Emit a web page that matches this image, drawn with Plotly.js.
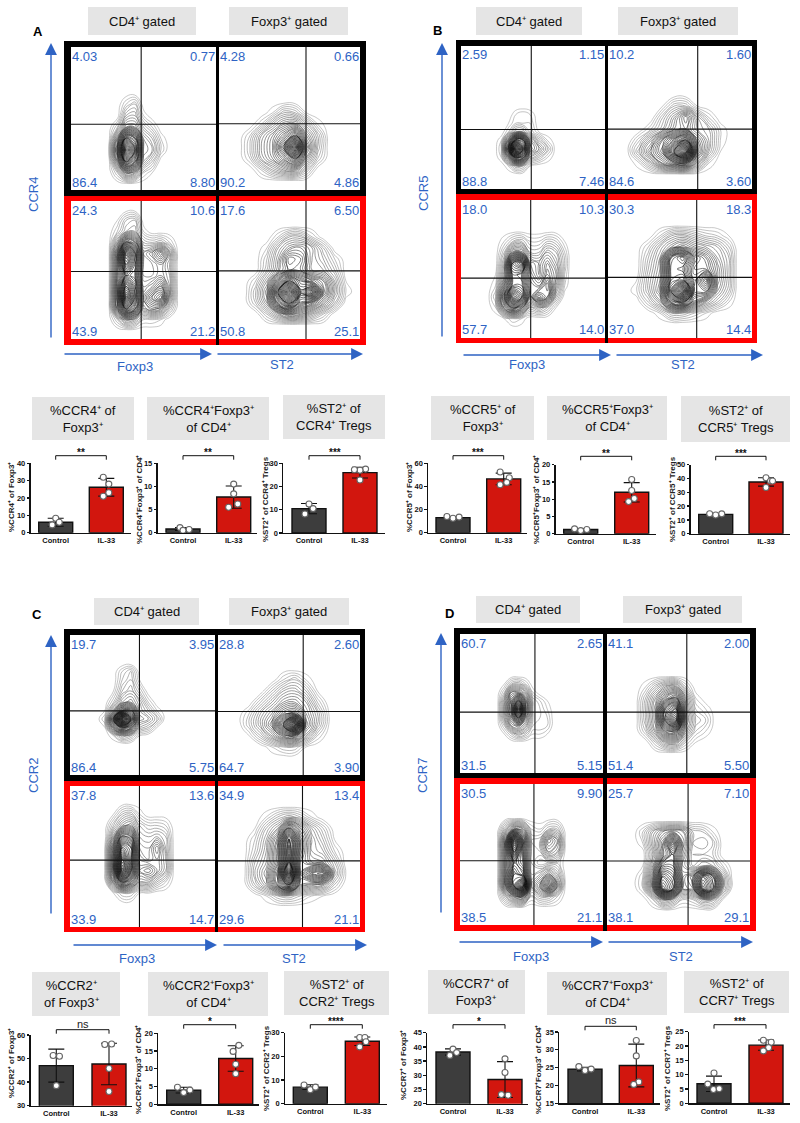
<!DOCTYPE html>
<html><head><meta charset="utf-8">
<script src="https://cdn.plot.ly/plotly-3.0.1.min.js"></script>
<style>html,body{margin:0;padding:0;background:#fff}</style></head>
<body><div id="chart" style="width:800px;height:1123px"></div>
<script>
// ---------- DATA: gate percentages (TL, TR, BL, BR) ----------
const pctA=[['4.03','0.77','86.4','8.80'],['4.28','0.66','90.2','4.86'],['24.3','10.6','43.9','21.2'],['17.6','6.50','50.8','25.1']];
const pctB=[['2.59','1.15','88.8','7.46'],['10.2','1.60','84.6','3.60'],['18.0','10.3','57.7','14.0'],['30.3','18.3','37.0','14.4']];
const pctC=[['19.7','3.95','86.4','5.75'],['28.8','2.60','64.7','3.90'],['37.8','13.6','33.9','14.7'],['34.9','13.4','29.6','21.1']];
const pctD=[['60.7','2.65','31.5','5.15'],['41.1','2.00','51.4','5.50'],['30.5','9.90','38.5','21.1'],['25.7','7.10','38.1','29.1']];
// gate positions [vertical, horizontal] in % of the plot
const gatesA=[[48.4,46],[61.7,46.3],[48.4,48.9],[61.7,49.4]];
const gatesB=[[48.8,41.6],[62.3,41.9],[48.4,43.4],[61.6,43.9]];
const gatesC=[[47.9,45.8],[60,45.4],[47.9,47.4],[59.5,46.9]];
const gatesD=[[52.4,43.8],[55.8,43.8],[51.7,45.6],[56.7,45.4]];

// ---------- DATA: contour densities (rows read top to bottom) ----------
const xA1=[26,32,38,44,50,56,62,68], yA1=[60,52,44,36,28,20,12];
const zA1=[[0,0,3,5,0,0,0,0],[0,0,7,8,2,0,0,0],[0,4,12,12,6,3,0,0],[0,12,30,26,10,7,2,0],[1,18,42,32,11,9,3,0],[0,12,30,24,9,5,0,0],[0,4,12,10,3,1,0,0]];
const xA2=[14,22,30,38,46,54,62,70,78], yA2=[54,46,38,30,22,14];
const zA2=[[0,0,0,2,6,5,1,0,0],[0,0,3,8,12,13,7,2,0],[0,3,9,13,18,24,12,6,0],[0,4,10,14,24,40,16,6,0],[0,3,9,13,18,24,11,4,0],[0,0,3,7,10,11,5,0,0]];
const xA3=[26,32,38,44,50,56,62,68,74], yA3=[86,78,70,62,54,46,38,30,22,14];
const zA3=[[0,1,5,6,0,0,0,0,0],[0,3,7,8,2,0,0,0,0],[0,9,22,18,6,5,6,3,0],[0,16,38,28,10,13,18,10,0],[0,16,34,26,10,10,12,8,0],[0,16,26,24,10,10,12,9,0],[0,18,36,28,12,14,18,10,0],[0,18,42,30,14,20,24,10,0],[0,15,30,24,11,14,12,5,0],[0,4,10,8,3,3,2,0,0]];
const xA4=[18,26,34,42,50,58,66,74,82,90], yA4=[74,66,58,50,42,34,26,18];
const zA4=[[0,0,0,3,7,7,3,0,0,0],[0,0,2,8,12,13,10,5,0,0],[0,0,4,10,18,16,10,7,3,0],[0,0,5,11,16,15,10,9,5,0],[0,3,9,20,30,24,20,16,8,1],[0,5,12,30,44,28,34,18,9,2],[0,4,10,24,32,22,18,12,6,0],[0,0,4,9,14,12,8,4,0,0]];

const xB1=[28,33,38,43,48,54,60,66], yB1=[52,46,40,34,28,22,16];
const zB1=[[0,0,2,3,2,0,0,0],[0,1,3,3,3,0,0,0],[0,3,8,8,4,1,0,0],[2,14,30,28,12,6,2,0],[3,22,48,34,14,10,5,0],[2,12,26,22,8,5,2,0],[0,2,6,5,1,0,0,0]];
const xB2=[14,22,30,38,46,54,62,70,78], yB2=[58,50,42,34,26,18];
const zB2=[[0,0,0,1,5,5,1,0,0],[0,0,0,5,10,16,8,3,0],[0,0,3,7,12,14,9,7,2],[0,4,10,18,24,30,14,8,2],[1,7,14,20,34,46,16,7,1],[0,2,7,14,18,20,9,2,0]];
const xB3=[24,30,36,42,48,54,60,66,72,76], yB3=[70,62,54,46,38,30,22,14];
const zB3=[[0,2,5,6,3,3,5,4,1,0],[0,5,14,14,6,6,10,8,3,0],[0,8,30,34,12,10,14,10,4,0],[1,10,26,24,14,10,16,12,3,0],[2,14,26,26,16,14,20,10,2,0],[4,20,36,30,14,22,18,6,0,0],[2,14,22,16,6,8,5,1,0,0],[0,1,3,2,0,0,0,0,0,0]];
const xB4=[20,28,36,44,52,60,68,76,84,90], yB4=[74,66,58,50,42,34,26,18];
const zB4=[[0,0,3,7,8,6,4,3,1,0],[0,3,8,12,15,12,10,8,4,0],[0,5,10,26,30,20,16,10,6,0],[0,6,11,28,26,18,18,12,6,0],[1,7,12,28,30,20,28,12,6,0],[2,7,13,32,44,22,22,10,5,0],[0,4,9,22,26,16,10,6,2,0],[0,0,2,6,6,4,2,0,0,0]];

const xC1=[24,30,36,42,48,54,60,66], yC1=[74,68,60,52,46,40,34,28];
const zC1=[[0,0,3,5,0,0,0,0],[0,0,4,6,1,0,0,0],[0,1,6,8,4,0,0,0],[0,4,10,12,8,3,0,0],[1,10,22,22,9,6,2,0],[3,22,48,30,11,9,5,0],[1,14,24,18,7,5,1,0],[0,2,7,5,1,0,0,0]];
const xC2=[14,22,30,38,46,54,62,70,78], yC2=[68,60,52,44,36,28,20];
const zC2=[[0,0,0,0,3,5,2,0,0],[0,0,0,4,8,9,6,1,0],[0,0,4,8,12,13,10,4,0],[0,3,8,12,18,20,12,7,1],[0,4,9,15,28,44,14,7,1],[0,1,5,10,16,18,9,3,0],[0,0,0,2,4,4,1,0,0]];
const xC3=[24,30,36,42,48,54,60,66,72], yC3=[80,72,64,56,48,40,32,24];
const zC3=[[0,1,5,6,2,0,0,0,0],[0,5,10,12,6,4,4,3,0],[0,10,24,22,8,7,8,6,0],[1,16,34,30,10,9,14,7,0],[1,18,40,30,12,10,12,8,0],[1,18,44,30,14,16,12,8,0],[0,12,24,18,10,10,6,3,0],[0,1,4,4,1,1,0,0,0]];
const xC4=[18,26,34,42,50,58,66,74,82,90], yC4=[78,70,62,54,46,38,30,22];
const zC4=[[0,0,2,5,7,5,2,0,0,0],[0,1,6,10,22,14,8,4,0,0],[0,3,8,16,34,18,10,6,1,0],[0,4,9,18,36,18,10,8,3,0],[0,6,10,18,36,16,12,11,6,0],[0,7,12,22,46,16,24,26,8,1],[0,5,10,20,30,14,12,10,4,0],[0,0,2,5,6,4,2,1,0,0]];

const xD1=[26,31,36,41,46,51,56,61,66], yD1=[64,58,52,46,40,34,28];
const zD1=[[0,1,5,6,3,0,0,0,0],[0,4,14,14,10,2,0,0,0],[0,8,18,28,16,5,3,1,0],[0,9,20,40,18,5,4,2,0],[0,8,16,28,14,5,4,3,0],[0,4,12,14,10,4,4,3,0],[0,1,4,7,5,2,2,1,0]];
const xD2=[20,27,34,41,48,55,62,69,76], yD2=[62,54,46,38,30,22];
const zD2=[[0,2,6,10,11,4,0,0,0],[0,5,11,18,22,10,2,0,0],[0,6,13,28,34,12,4,2,0],[0,6,13,30,40,13,6,4,0],[0,4,11,20,22,10,4,2,0],[0,0,4,9,10,4,1,0,0]];
const xD3=[26,32,38,44,50,56,62,68,74], yD3=[68,60,52,44,36,28,20];
const zD3=[[0,7,14,12,3,2,5,5,0],[0,16,40,22,5,6,16,12,0],[0,16,34,20,5,5,12,9,0],[0,15,26,22,5,2,3,3,0],[0,16,30,26,6,8,12,7,0],[0,16,32,42,8,14,24,12,0],[0,6,12,14,3,6,6,3,0]];
const xD4=[18,25,32,39,46,53,60,67,74,81,88], yD4=[66,58,50,42,34,26,18];
const zD4=[[0,3,8,12,14,12,6,5,2,0,0],[0,2,9,16,28,14,6,7,5,0,0],[0,0,7,16,22,12,5,5,4,0,0],[0,1,10,24,24,10,6,8,7,3,0],[0,3,14,32,28,12,16,30,24,8,0],[0,3,14,36,30,12,14,34,26,8,0],[0,0,3,10,8,3,4,8,7,1,0]];

// ---------- DATA: bar charts ----------
const categories=['Control','IL-33'];
const A1_means=[6,26.2], A1_err=[2.3,5.1], A1_ctrl=[8.3,6,4.5], A1_il33=[32,28,23,21], A1_cx=[0,.07,-.07], A1_ix=[-.06,.05,.05,-.06];
const A2_means=[0.8,7.7], A2_err=[0.3,2.4], A2_ctrl=[1.1,.7,.5], A2_il33=[10.5,8.4,6.2,5.5], A2_cx=[-.06,.12,0], A2_ix=[0,0,.08,-.1];
const A3_means=[10.5,26], A3_err=[2.2,2.3], A3_ctrl=[12.5,10.5,8.2], A3_il33=[27.5,27,27.2,22.8], A3_cx=[0,.08,-.08], A3_ix=[.11,0,-.11,0];
const B1_means=[13,46.5], B1_err=[1,5], B1_ctrl=[14,12.5,13.5], B1_il33=[52.5,47.5,43.5,41.5], B1_cx=[-.12,0,.12], B1_ix=[-.07,.11,.06,-.07];
const B2_means=[1.2,12], B2_err=[.3,2.8], B2_ctrl=[1.4,.9,1.2], B2_il33=[15.7,12.5,10.2,9.3], B2_cx=[-.12,0,.12], B2_ix=[0,0,.05,-.06];
const B3_means=[14,37.5], B3_err=[.5,3], B3_ctrl=[14.5,13.5,14.4], B3_il33=[40.5,38.2,38.2,33.5], B3_cx=[-.12,0,.12], B3_ix=[0,.09,.13,0];
const C1_means=[47,47.7], C1_err=[7,8.8], C1_ctrl=[51.3,51,38.5], C1_il33=[56,56.2,45.8,36], C1_cx=[-.06,.06,0], C1_ix=[-.08,.05,0,0];
const C2_means=[4,12.9], C2_err=[.8,3.6], C2_ctrl=[4.8,3.3,4], C2_il33=[16.6,14.9,11.3,8.6], C2_cx=[-.12,0,.12], C2_ix=[.06,-.05,0,0];
const C3_means=[7,26.4], C3_err=[1,1.8], C3_ctrl=[7.9,5.9,7], C3_il33=[28,28,26.2,24], C3_cx=[-.12,0,.1], C3_ix=[-.05,.05,.07,-.05];
const D1_means=[38.2,28.5], D1_err=[1.1,6.3], D1_ctrl=[39.2,38,37], D1_il33=[35.8,31,23.2,23], D1_cx=[0,.07,-.06], D1_ix=[0,0,-.07,.06];
const D2_means=[24.6,25.6], D2_err=[.5,6], D2_ctrl=[25.3,24.2,24.6], D2_il33=[32.6,28.3,21,20.3], D2_cx=[-.12,0,.12], D2_ix=[0,0,.05,-.05];
const D3_means=[6.8,20.3], D3_err=[2.7,1.8], D3_ctrl=[10.6,6.7,4.8,5.1], D3_il33=[22,21.3,19.4,18.3], D3_cx=[0,-.12,-.01,.1], D3_ix=[-.05,.1,.05,-.05];

// ---------- LAYOUT TABLES (pixels in the page) ----------
const W=800,H=1123;
const px=x=>x/W, py=y=>1-y/H;
const BLUE='#2e63c4', FONT='"Liberation Sans",Arial,sans-serif';
const traces=[], shapes=[], annotations=[], layout={};
let axisN=0;

function rect(x0,y0,x1,y1,c){shapes.push({type:'rect',xref:'paper',yref:'paper',x0:px(x0),x1:px(x1),y0:py(y0),y1:py(y1),fillcolor:c,line:{width:0},layer:'below'});}
function text(x,y,t,o={}){annotations.push(Object.assign({xref:'paper',yref:'paper',x:px(x),y:py(y),text:t,showarrow:false,xanchor:'center',yanchor:'middle',font:{family:FONT,size:13,color:'#111'},borderpad:0,borderwidth:0},o));}
function arrow(x1,y1,x2,y2){annotations.push({xref:'paper',yref:'paper',x:px(x2),y:py(y2),ax:x1-x2,ay:y1-y2,axref:'pixel',ayref:'pixel',text:'',showarrow:true,arrowhead:2,arrowsize:1.7,arrowwidth:1.4,arrowcolor:BLUE,standoff:0});}

function flowGroup(g){
  rect(g.fx0,g.fy0,g.fx1,g.fym,'#000');
  rect(g.fx0,g.fym,g.fx1,g.fy1,'#ff0000');
  rect(g.col[0][1],g.fym,g.col[1][0],g.fy1,'#000');
  const cells=[[g.col[0],g.row[0]],[g.col[1],g.row[0]],[g.col[0],g.row[1]],[g.col[1],g.row[1]]];
  cells.forEach((c,i)=>{
    const [l,r]=c[0],[t,b]=c[1];
    rect(l,t,r,b,'#fff');
    axisN++;
    const xa='x'+axisN, ya='y'+axisN;
    layout['xaxis'+axisN]={domain:[px(l),px(r)],range:[0,100],visible:false,anchor:ya,fixedrange:true};
    layout['yaxis'+axisN]={domain:[py(b),py(t)],range:[0,100],visible:false,anchor:xa,fixedrange:true};
    const d=g.cont[i];
    const dx0=d.x[1]-d.x[0], dxn=d.x[d.x.length-1]-d.x[d.x.length-2];
    const dy0=d.y[0]-d.y[1], dyn=d.y[d.y.length-2]-d.y[d.y.length-1];
    const xs=[d.x[0]-dx0,...d.x,d.x[d.x.length-1]+dxn];
    const ys=[d.y[0]+dy0,...d.y,d.y[d.y.length-1]-dyn].reverse();
    const zero=xs.map(()=>0);
    const zs=[zero,...d.z.map(r=>[0,...r,0]),zero].reverse();
    traces.push({type:'contour',x:xs,y:ys,z:zs,xaxis:xa,yaxis:ya,autocontour:false,showscale:false,hoverinfo:'skip',
      contours:{coloring:'lines',start:1,end:60,size:1},line:{width:0.6,smoothing:1.3},
      zmin:0,zmax:30,colorscale:[[0,'#a4a4a4'],[0.2,'#686868'],[0.5,'#2c2c2c'],[1,'#0a0a0a']]});
    const [vx,hy]=g.gates[i];
    shapes.push({type:'line',xref:xa,yref:ya,x0:vx,x1:vx,y0:0,y1:100,line:{color:'#111',width:1.1}});
    shapes.push({type:'line',xref:xa,yref:ya,x0:0,x1:100,y0:hy,y1:hy,line:{color:'#111',width:1.1}});
    const p=g.pct[i], col={family:FONT,size:13,color:BLUE};
    text(l+1,t+9,p[0],{xanchor:'left',font:col});
    text(r-1,t+9,p[1],{xanchor:'right',font:col});
    text(l+1,b-8,p[2],{xanchor:'left',font:col});
    text(r-1,b-8,p[3],{xanchor:'right',font:col});
  });
  g.heads.forEach(h=>{rect(h[0],h[1],h[2],h[3],'#e5e5e5');text((h[0]+h[2])/2,(h[1]+h[3])/2,h[4]);});
  text(g.letter[0],g.letter[1],'<b>'+g.letter[2]+'</b>',{font:{family:FONT,size:13,color:'#000'}});
  arrow(g.yarrow[0],g.yarrow[1],g.yarrow[0],g.yarrow[2]);
  arrow(g.xa1[0],g.xa1[2],g.xa1[1],g.xa1[2]);
  arrow(g.xa2[0],g.xa2[2],g.xa2[1],g.xa2[2]);
  const bc={family:FONT,size:13,color:BLUE};
  text(g.xl1[0],g.xl1[1],'Foxp3',{font:bc});
  text(g.xl2[0],g.xl2[1],'ST2',{font:bc});
  text(g.yl[0],g.yl[1],g.yl[2],{font:bc,textangle:-90});
}

const S='\u207A';
flowGroup({fx0:64,fx1:366,fy0:41,fym:196,fy1:345,col:[[71,216],[219,360]],row:[[47,190],[201,339]],
  cont:[{x:xA1,y:yA1,z:zA1},{x:xA2,y:yA2,z:zA2},{x:xA3,y:yA3,z:zA3},{x:xA4,y:yA4,z:zA4}],gates:gatesA,pct:pctA,
  heads:[[88,7,196,35,'CD4'+S+' gated'],[229,7,348,35,'Foxp3'+S+' gated']],letter:[38,31,'A'],
  yarrow:[51,339,43],xa1:[63,212,354],xa2:[216,363,354],xl1:[135,367],xl2:[282,364],yl:[33,195,'CCR4']});
flowGroup({fx0:456,fx1:757,fy0:40,fym:194,fy1:343,col:[[461,605],[608,752]],row:[[46,189],[200,338]],
  cont:[{x:xB1,y:yB1,z:zB1},{x:xB2,y:yB2,z:zB2},{x:xB3,y:yB3,z:zB3},{x:xB4,y:yB4,z:zB4}],gates:gatesB,pct:pctB,
  heads:[[476,7,582,35,'CD4'+S+' gated'],[618,7,738,35,'Foxp3'+S+' gated']],letter:[437,30,'B'],
  yarrow:[442,338,43],xa1:[462,611,355],xa2:[615,763,355],xl1:[527,364],xl2:[683,364],yl:[424,194,'CCR5']});
flowGroup({fx0:64,fx1:365,fy0:629,fym:781,fy1:932,col:[[70,215],[218,360]],row:[[635,775],[786,927]],
  cont:[{x:xC1,y:yC1,z:zC1},{x:xC2,y:yC2,z:zC2},{x:xC3,y:yC3,z:zC3},{x:xC4,y:yC4,z:zC4}],gates:gatesC,pct:pctC,
  heads:[[94,598,199,625,'CD4'+S+' gated'],[229,598,349,625,'Foxp3'+S+' gated']],letter:[37,614,'C'],
  yarrow:[51,915,635],xa1:[72,217,945],xa2:[222,367,945],xl1:[137,958],xl2:[294,958],yl:[33,776,'CCR2']});
flowGroup({fx0:454,fx1:756,fy0:628,fym:778,fy1:931,col:[[460,603],[607,750]],row:[[634,773],[784,925]],
  cont:[{x:xD1,y:yD1,z:zD1},{x:xD2,y:yD2,z:zD2},{x:xD3,y:yD3,z:zD3},{x:xD4,y:yD4,z:zD4}],gates:gatesD,pct:pctD,
  heads:[[476,596,580,623,'CD4'+S+' gated'],[623,596,742,623,'Foxp3'+S+' gated']],letter:[449,613,'D'],
  yarrow:[441,914,633],xa1:[458,603,942],xa2:[607,753,942],xl1:[531,956],xl2:[681,956],yl:[422,776,'CCR7']});

function barChart(c){
  axisN++;
  const xa='x'+axisN, ya='y'+axisN;
  const s=c.c2-c.c1;
  const r0=1-(c.c1-c.L)/s, r1=1+(c.R-c.c1)/s;
  const axisLine={showline:true,linecolor:'#111',linewidth:1.4,fixedrange:true,showgrid:false,zeroline:false};
  const tf={family:FONT,size:7.5,color:'#111',weight:700};
  layout['xaxis'+axisN]=Object.assign({domain:[px(c.L),px(c.R)],range:[r0,r1],anchor:ya,tickmode:'array',tickvals:[1,2],ticktext:categories,ticks:'',tickfont:tf},axisLine);
  layout['yaxis'+axisN]=Object.assign({domain:[py(c.base),py(c.top)],range:[c.ticks[0],c.ticks[c.ticks.length-1]],anchor:xa,tickmode:'array',tickvals:c.ticks,ticks:'outside',ticklen:2.5,tickwidth:1.3,tickcolor:'#111',tickfont:tf},axisLine);
  traces.push({type:'bar',x:[1,2],y:c.means,width:34/s,xaxis:xa,yaxis:ya,showlegend:false,hoverinfo:'skip',
    marker:{color:['#3d3d3d','#d2160e'],line:{color:'#111',width:1.4}}});
  traces.push({type:'scatter',mode:'markers',x:[1,2],y:c.means,xaxis:xa,yaxis:ya,showlegend:false,hoverinfo:'skip',cliponaxis:false,
    marker:{size:1,opacity:0},error_y:{type:'data',array:c.err,visible:true,color:'#111',thickness:1.1,width:8}});
  traces.push({type:'scatter',mode:'markers',xaxis:xa,yaxis:ya,showlegend:false,hoverinfo:'skip',cliponaxis:false,
    x:[...c.ctrl.map((_,i)=>1+c.cx[i]),...c.il33.map((_,i)=>2+c.ix[i])],y:[...c.ctrl,...c.il33],
    marker:{size:6,color:'#fff',line:{color:'#666',width:1.1}}});
  shapes.push({type:'path',xref:'paper',yref:'paper',path:`M${px(c.c1)},${py(c.br+4)} L${px(c.c1)},${py(c.br)} L${px(c.c2)},${py(c.br)} L${px(c.c2)},${py(c.br+4)}`,line:{color:'#111',width:1}});
  const mid=(c.c1+c.c2)/2;
  if(c.sig==='ns') text(mid,c.br-6,'ns',{font:{family:FONT,size:11,color:'#222'}});
  else text(mid,c.br-3,'<b>'+c.sig+'</b>',{font:{family:FONT,size:10,color:'#111'}});
  text(c.tx,c.ty,'<b>'+c.title+'</b>',{textangle:-90,font:{family:FONT,size:8,color:'#222'}});
  rect(c.box[0],c.box[1],c.box[2],c.box[3],'#e5e5e5');
  text(c.lab||(c.box[0]+c.box[2])/2,(c.box[1]+c.box[3])/2,c.boxText);
}
const P='\u207A';
const charts=[
 {L:30.7,c1:55.7,c2:106.3,R:130.7,base:532.7,top:463.3,br:455.7,ticks:[0,10,20,30,40],means:A1_means,err:A1_err,ctrl:A1_ctrl,il33:A1_il33,cx:A1_cx,ix:A1_ix,sig:'**',tx:11,ty:497,title:'%CCR4'+P+' of Foxp3'+P,box:[32,397,134,440],boxText:'%CCR4'+P+' of<br>Foxp3'+P},
 {L:157.7,c1:183,c2:233.7,R:256.7,base:532.7,top:463.3,br:455.7,ticks:[0,5,10,15],means:A2_means,err:A2_err,ctrl:A2_ctrl,il33:A2_il33,cx:A2_cx,ix:A2_ix,sig:'**',tx:140,ty:500,title:'%CCR4'+P+'Foxp3'+P+' of CD4'+P,box:[147,397,269,440],boxText:'%CCR4'+P+'Foxp3'+P+'<br>of CD4'+P},
 {L:283.3,c1:309,c2:360,R:385,base:533,top:463.3,br:455.7,ticks:[0,10,20,30],means:A3_means,err:A3_err,ctrl:A3_ctrl,il33:A3_il33,cx:A3_cx,ix:A3_ix,sig:'***',tx:265,ty:499,title:'%ST2'+P+' of CCR4'+P+' Tregs',box:[283,395,385,439],boxText:'%ST2'+P+' of<br>CCR4'+P+' Tregs'},
 {L:428.3,c1:453,c2:503.7,R:527.3,base:532.7,top:463.3,br:455.7,ticks:[0,20,40,60],means:B1_means,err:B1_err,ctrl:B1_ctrl,il33:B1_il33,cx:B1_cx,ix:B1_ix,sig:'***',tx:409,ty:497,title:'%CCR5'+P+' of Foxp3'+P,box:[431,396,534,440],boxText:'%CCR5'+P+' of<br>Foxp3'+P},
 {L:555.7,c1:580.7,c2:631.7,R:656,base:533.7,top:464.7,br:456.3,ticks:[0,5,10,15,20],means:B2_means,err:B2_err,ctrl:B2_ctrl,il33:B2_il33,cx:B2_cx,ix:B2_ix,sig:'**',tx:537,ty:500,title:'%CCR5'+P+'Foxp3'+P+' of CD4'+P,box:[547,396,667,440],boxText:'%CCR5'+P+'Foxp3'+P+'<br>of CD4'+P},
 {L:690.7,c1:715.7,c2:766,R:790,base:533.7,top:464.7,br:456.3,ticks:[0,10,20,30,40,50],means:B3_means,err:B3_err,ctrl:B3_ctrl,il33:B3_il33,cx:B3_cx,ix:B3_ix,sig:'***',tx:672,ty:499,title:'%ST2'+P+' of CCR5'+P+' Tregs',box:[681,396,790,442],boxText:'%ST2'+P+' of<br>CCR5'+P+' Tregs'},
 {L:30.7,c1:56.3,c2:109,R:131.7,base:1105.7,top:1035,br:1029.7,ticks:[30,40,50,60],means:C1_means,err:C1_err,ctrl:C1_ctrl,il33:C1_il33,cx:C1_cx,ix:C1_ix,sig:'ns',tx:11,ty:1063,title:'%CCR2'+P+' of Foxp3'+P,box:[32,972,120,1016],boxText:'%CCR2'+P+'<br>of Foxp3'+P,lab:71},
 {L:158.3,c1:183.7,c2:235.7,R:259.3,base:1104.3,top:1033.3,br:1024.7,ticks:[0,5,10,15,20],means:C2_means,err:C2_err,ctrl:C2_ctrl,il33:C2_il33,cx:C2_cx,ix:C2_ix,sig:'*',tx:138,ty:1070,title:'%CCR2'+P+'Foxp3'+P+' of CD4'+P,box:[148,972,268,1016],boxText:'%CCR2'+P+'Foxp3'+P+'<br>of CD4'+P},
 {L:285,c1:310.3,c2:362.3,R:387,base:1103.7,top:1032.7,br:1024.7,ticks:[0,10,20,30],means:C3_means,err:C3_err,ctrl:C3_ctrl,il33:C3_il33,cx:C3_cx,ix:C3_ix,sig:'****',tx:266,ty:1068,title:'%ST2'+P+' of CCR2'+P+' Tregs',box:[284,971,389,1015],boxText:'%ST2'+P+' of<br>CCR2'+P+' Tregs'},
 {L:427.3,c1:453,c2:505,R:528.3,base:1103.7,top:1032.7,br:1024.7,ticks:[20,25,30,35,40,45],means:D1_means,err:D1_err,ctrl:D1_ctrl,il33:D1_il33,cx:D1_cx,ix:D1_ix,sig:'*',tx:403,ty:1065,title:'%CCR7'+P+' of Foxp3'+P,box:[428,970,525,1014],boxText:'%CCR7'+P+' of<br>Foxp3'+P},
 {L:559.3,c1:585,c2:636.3,R:660,base:1103.3,top:1032,br:1026.3,ticks:[15,20,25,30,35],means:D2_means,err:D2_err,ctrl:D2_ctrl,il33:D2_il33,cx:D2_cx,ix:D2_ix,sig:'ns',tx:538,ty:1070,title:'%CCR7'+P+'Foxp3'+P+' of CD4'+P,box:[547,972,667,1015],boxText:'%CCR7'+P+'Foxp3'+P+'<br>of CD4'+P},
 {L:689,c1:714,c2:766,R:790,base:1103.3,top:1031.7,br:1024.7,ticks:[0,5,10,15,20,25],means:D3_means,err:D3_err,ctrl:D3_ctrl,il33:D3_il33,cx:D3_cx,ix:D3_ix,sig:'***',tx:667,ty:1068,title:'%ST2'+P+' of CCR7'+P+' Tregs',box:[684,971,789,1013],boxText:'%ST2'+P+' of<br>CCR7'+P+' Tregs'}
];
charts.forEach(barChart);

Object.assign(layout,{width:W,height:H,margin:{l:0,r:0,t:0,b:0},paper_bgcolor:'#fff',plot_bgcolor:'rgba(0,0,0,0)',showlegend:false,barmode:'overlay',shapes,annotations,font:{family:FONT}});
Plotly.newPlot('chart',traces,layout,{displayModeBar:false,staticPlot:true});
</script></body></html>
